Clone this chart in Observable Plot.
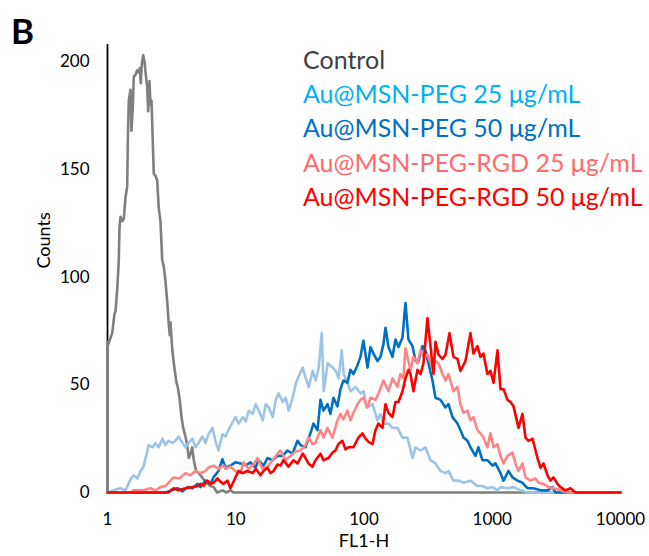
<!DOCTYPE html>
<html>
<head>
<meta charset="utf-8">
<script src="https://cdn.jsdelivr.net/npm/d3@7"></script>
<script src="https://cdn.jsdelivr.net/npm/@observablehq/plot@0.6"></script>
<style>
  body { margin: 0; background: #fff; }
  #wrap { position: relative; width: 649px; height: 556px; font-family: Lato, sans-serif; }
  #panel { position: absolute; left: 11px; top: 13px; font-weight: bold; font-size: 35px; line-height: 34px; color: #000; }
  #legend { position: absolute; left: 303px; top: 42px; font-size: 25px; line-height: 34.2px; white-space: nowrap; }
  #chart { position: absolute; left: 0; top: 0; }
</style>
</head>
<body>
<div id="wrap">
  <div id="chart"></div>
  <div id="panel">B</div>
  <div id="legend"></div>
</div>
<script>
// ---- data (FL1-H value, counts) ----
const seriesNames = ["Control", "Au@MSN-PEG 25 μg/mL", "Au@MSN-PEG 50 μg/mL", "Au@MSN-PEG-RGD 25 μg/mL", "Au@MSN-PEG-RGD 50 μg/mL"];
const xTicks = [1, 10, 100, 1000, 10000];
const yTicks = [0, 50, 100, 150, 200];

const control = [[1,0],[1,70],[1.018,69],[1.088,74],[1.134,83],[1.154,84],[1.19,94],[1.225,108],[1.24,123],[1.263,128],[1.302,126],[1.34,127],[1.381,137],[1.424,142],[1.44,163],[1.466,182],[1.511,187],[1.538,168],[1.575,179],[1.604,193],[1.653,194],[1.704,196],[1.754,195],[1.786,197],[1.818,190],[1.851,199],[1.898,203],[1.943,200],[1.989,194],[2.039,188],[2.076,177],[2.125,191],[2.164,180],[2.203,182],[2.255,163],[2.296,148],[2.367,147],[2.44,145],[2.51,132],[2.589,126],[2.67,108],[2.747,105],[2.832,98],[2.92,89],[3.005,78],[3.06,73],[3.098,79],[3.194,67],[3.287,60],[3.45,51],[3.532,49],[3.66,43],[3.774,35],[3.89,30],[4.055,26],[4.18,22],[4.3,16],[4.436,18],[4.57,21],[4.71,15],[4.91,10],[5.15,9],[5.47,7],[5.805,5],[6.35,3],[6.74,2.5],[7.16,0],[7.875,1],[8.461,0],[9.091,1],[9.593,0],[10000,0]];

const peg25 = [[1,0],[1.114,1],[1.263,2],[1.381,1],[1.511,6],[1.595,8],[1.713,6.5],[1.808,10],[1.908,12],[2.05,19.5],[2.087,22],[2.243,21],[2.367,23],[2.498,21],[2.684,25],[2.832,22],[2.989,24],[3.211,23],[3.389,24],[3.576,26],[3.843,23],[4.055,21],[4.279,23],[4.598,25],[4.852,21],[5.12,23],[5.501,26],[5.805,23],[6.126,27],[6.582,30],[6.946,24],[7.33,19.5],[7.875,27],[8.311,26],[8.77,29],[9.423,32.5],[9.944,35],[10.55,32],[11.34,35],[11.97,33],[12.63,38],[13.57,36.5],[14.32,41],[15.11,38],[16.24,33.5],[17.13,41],[18.08,39.5],[19.43,35],[20.5,43],[21.64,46],[23.25,42],[24.53,44],[25.89,38],[27.82,44],[29.36,50.5],[30.98,54],[33.29,58],[35.13,53],[37.07,49],[39.83,56.5],[42.03,52],[44.36,58],[46.81,74],[48.52,47],[52.13,60],[57.02,58],[60.17,56.5],[63.5,53],[67.01,66],[69.46,55],[74.62,50.5],[78.75,47],[86.14,49],[94.23,46],[99.44,47],[104.6,39.5],[116.5,41],[127.4,33.5],[134.5,36.5],[141.9,32],[155.2,32],[166.8,30],[182.4,30],[199.6,25.5],[218.3,25.5],[238.8,16],[252,21],[275.7,19.5],[301.6,21],[329.9,15],[360.8,13.5],[394.7,10],[431.8,9],[455.7,10],[498.4,5.5],[545.2,5.5],[596.3,4.5],[676.1,5.5],[766.6,3],[838.6,3],[917.3,2],[1005,2.5],[1099,1],[1160,2.5],[1315,2],[1471,2.5],[1661,1],[1882,0],[10000,0]];

const peg50 = [[1,0],[2.832,0],[3.513,2],[3.843,0.5],[4.203,2.5],[4.598,2],[5.029,4],[5.307,2.5],[5.805,5.5],[6.35,4],[6.701,7],[7.33,10],[7.875,15.5],[8.311,11.5],[9.091,12.5],[9.944,14],[10.89,13.5],[11.91,12.5],[13.03,14],[14.25,11.5],[15.04,15],[16.46,12.5],[17.68,16],[19.34,15],[21.16,17],[23.15,17],[25.32,19.5],[27.69,18],[30.3,24],[31.97,22],[34.97,21],[38.26,27.5],[40.37,32],[43.38,29],[45.78,43],[48.3,38],[51.9,41],[54.77,36.5],[57.79,44],[62.09,40],[65.53,48],[69.15,52],[74.28,51],[78.4,57],[82.74,55],[88.89,59],[93.81,63],[99,70.5],[106.5,58],[112.4,67.5],[118.6,64.5],[127.4,61],[134.5,63],[141.9,69],[147.1,76.5],[155.2,67.5],[166.8,63],[176,71],[185.7,67.5],[199.6,72],[210.6,88],[222.3,71],[238.8,68],[252,61],[266,61],[285.7,68],[301.6,66],[318.2,60],[341.9,52],[360.8,44],[394.7,43],[431.8,39.5],[455.7,41],[489.6,35],[535.5,32],[565.1,29],[596.3,25.5],[640.7,24],[676.1,21],[739.6,17],[780.5,21],[838.6,15],[917.3,15],[1005,12.5],[1060,13.5],[1159,9],[1224,5.5],[1339,10],[1438,7],[1573,5.5],[1721,4.5],[1882,2],[2097,2],[2378,1],[2696,1],[2949,2.5],[3112,0],[10000,0]];

const rgd25 = [[1,0],[1.511,0],[1.595,1],[1.908,1],[2.164,2],[2.367,1],[2.589,2.5],[2.832,3],[3.098,5.5],[3.269,7],[3.641,6.5],[4.055,9],[4.436,8],[4.852,10],[5.307,9],[5.805,10],[6.126,11.5],[6.701,12.5],[7.33,11],[8.018,12.5],[8.311,11],[9.091,12],[9.944,10],[10.89,9],[11.49,14],[12.57,11],[13.75,13],[14.78,16],[16.17,11],[17.68,12],[19.34,15],[21.16,18],[22.33,19.5],[24.42,15],[26.72,17],[29.23,19],[31.97,19.5],[34.97,22],[36.9,25.5],[39.65,22.5],[41.85,23],[45.78,29],[48.3,25.5],[51.9,30],[56.77,25.5],[62.09,33.5],[65.53,36.5],[69.15,34],[74.28,38],[78.4,33.5],[82.74,37],[88.89,41],[93.81,43],[99,44],[106.5,39.5],[112.4,44],[122.9,43],[129.7,46],[141.9,52],[155.2,47],[166.8,53],[182.4,49],[192.5,55],[203.2,53],[210.6,67],[230.4,57],[243.1,63],[261.2,60],[275.7,66],[290.9,63],[312.6,64],[341.9,58],[360.8,61],[380.8,60],[409.2,55],[431.8,52],[455.7,55],[498.4,47],[535.5,49],[565.1,41],[596.3,37],[640.7,38],[676.1,33.5],[713.5,35],[766.6,29],[809,27.5],[853.7,25.5],[917.3,21],[968,27.5],[1023,21],[1099,22.5],[1159,17],[1224,13.5],[1315,17],[1438,18.5],[1518,13.5],[1602,10],[1721,13.5],[1816,7],[1987,5.5],[2174,6.5],[2294,4.5],[2509,4],[2745,2.5],[3002,2],[3404,1],[3860,0],[10000,0]];

const rgd50 = [[1,0],[2.989,0],[3.269,2],[3.576,1],[4.055,2],[4.598,2.5],[5.029,3],[5.307,4],[5.601,3],[6.017,5.5],[6.35,4],[6.701,4.5],[7.199,6.5],[7.462,5.5],[8.018,4],[8.614,5.5],[9.091,2],[9.944,7],[10.55,10],[11.34,9],[12.34,10],[13.57,9],[14.32,11],[15.6,8],[16.46,10],[17.68,11.5],[18.66,9],[19.69,10],[21.16,13],[22.33,12.5],[23.57,15],[25.77,12],[28.19,15],[30.3,13.5],[33.29,18],[34.97,16],[36.9,13.5],[39.65,12],[41.85,15],[45.78,18],[48.3,15],[52.83,16],[56.77,18.5],[59.9,19.5],[63.22,22.5],[67.92,24],[71.67,20],[75.64,21],[82.74,21],[90.5,25.5],[97.24,27.5],[102.7,25],[108.4,23.5],[116.5,22.5],[122.9,29],[129.7,32],[139.4,30],[147.1,41],[155.2,37],[166.8,35],[176,42],[185.7,42],[199.6,47],[210.6,53],[222.3,57],[230.4,55],[243.1,47],[261.2,57],[275.7,55],[290.9,60],[312.6,81],[329.9,68],[348.2,55],[360.8,70],[380.8,64],[409.2,62],[431.8,64],[464,74],[498.4,63],[535.5,62],[565.1,56.5],[618.1,61],[676.1,74],[713.5,64.5],[766.6,68],[809,63],[853.7,64.5],[917.3,55],[968,56.5],[1023,51],[1099,66],[1159,48],[1224,48],[1315,43],[1387,42],[1465,40],[1602,30],[1721,36.5],[1816,25.5],[1917,24],[2059,25],[2253,16],[2378,11.5],[2509,13.5],[2696,8],[2845,5.5],[3002,7],[3226,4],[3404,2.5],[3724,1],[4074,2],[4456,0],[10000,0]];

// ---- styles ----
const lineColors = ["#7F7F7F", "#9DC3E6", "#0070C0", "#FF8585", "#FF0000"];
const textColors = ["#404040", "#00B0F0", "#0070C0", "#FF6B6B", "#FF0000"];
const seriesData = [control, peg25, peg50, rgd25, rgd50];

const chart = Plot.plot({
  width: 649,
  height: 556,
  marginLeft: 107,
  marginRight: 29,
  marginTop: 44,
  marginBottom: 64,
  style: { fontFamily: "Lato, sans-serif", fontSize: "17px", background: "transparent", color: "#000" },
  x: { type: "log", domain: [1, 10000] },
  y: { domain: [0, 208] },
  marks: [
    Plot.axisY({ ticks: yTicks, tickSize: 0, tickPadding: 18, label: null, fontSize: 17 }),
    Plot.axisX({ ticks: xTicks, tickSize: 0, tickPadding: 20, label: null, fontSize: 17, tickFormat: d => String(d) }),
    Plot.ruleX([1], { stroke: "#000", strokeWidth: 1.8 }),
    ...seriesData.map((s, i) => Plot.line(s, {
      x: d => d[0], y: d => d[1],
      stroke: lineColors[i], strokeWidth: 2.6, strokeLinejoin: "round"
    })),
    Plot.text(["Counts"], { text: d => d, frameAnchor: "left", rotate: -90, dx: -63, fontSize: 18, fill: "#000" }),
    Plot.text(["FL1-H"], { text: d => d, frameAnchor: "bottom", dy: 54, fontSize: 18, fill: "#000" })
  ]
});
document.getElementById("chart").appendChild(chart);

const legend = document.getElementById("legend");
seriesNames.forEach((name, i) => {
  const div = document.createElement("div");
  div.textContent = name;
  div.style.color = textColors[i];
  legend.appendChild(div);
});
</script>
</body>
</html>
